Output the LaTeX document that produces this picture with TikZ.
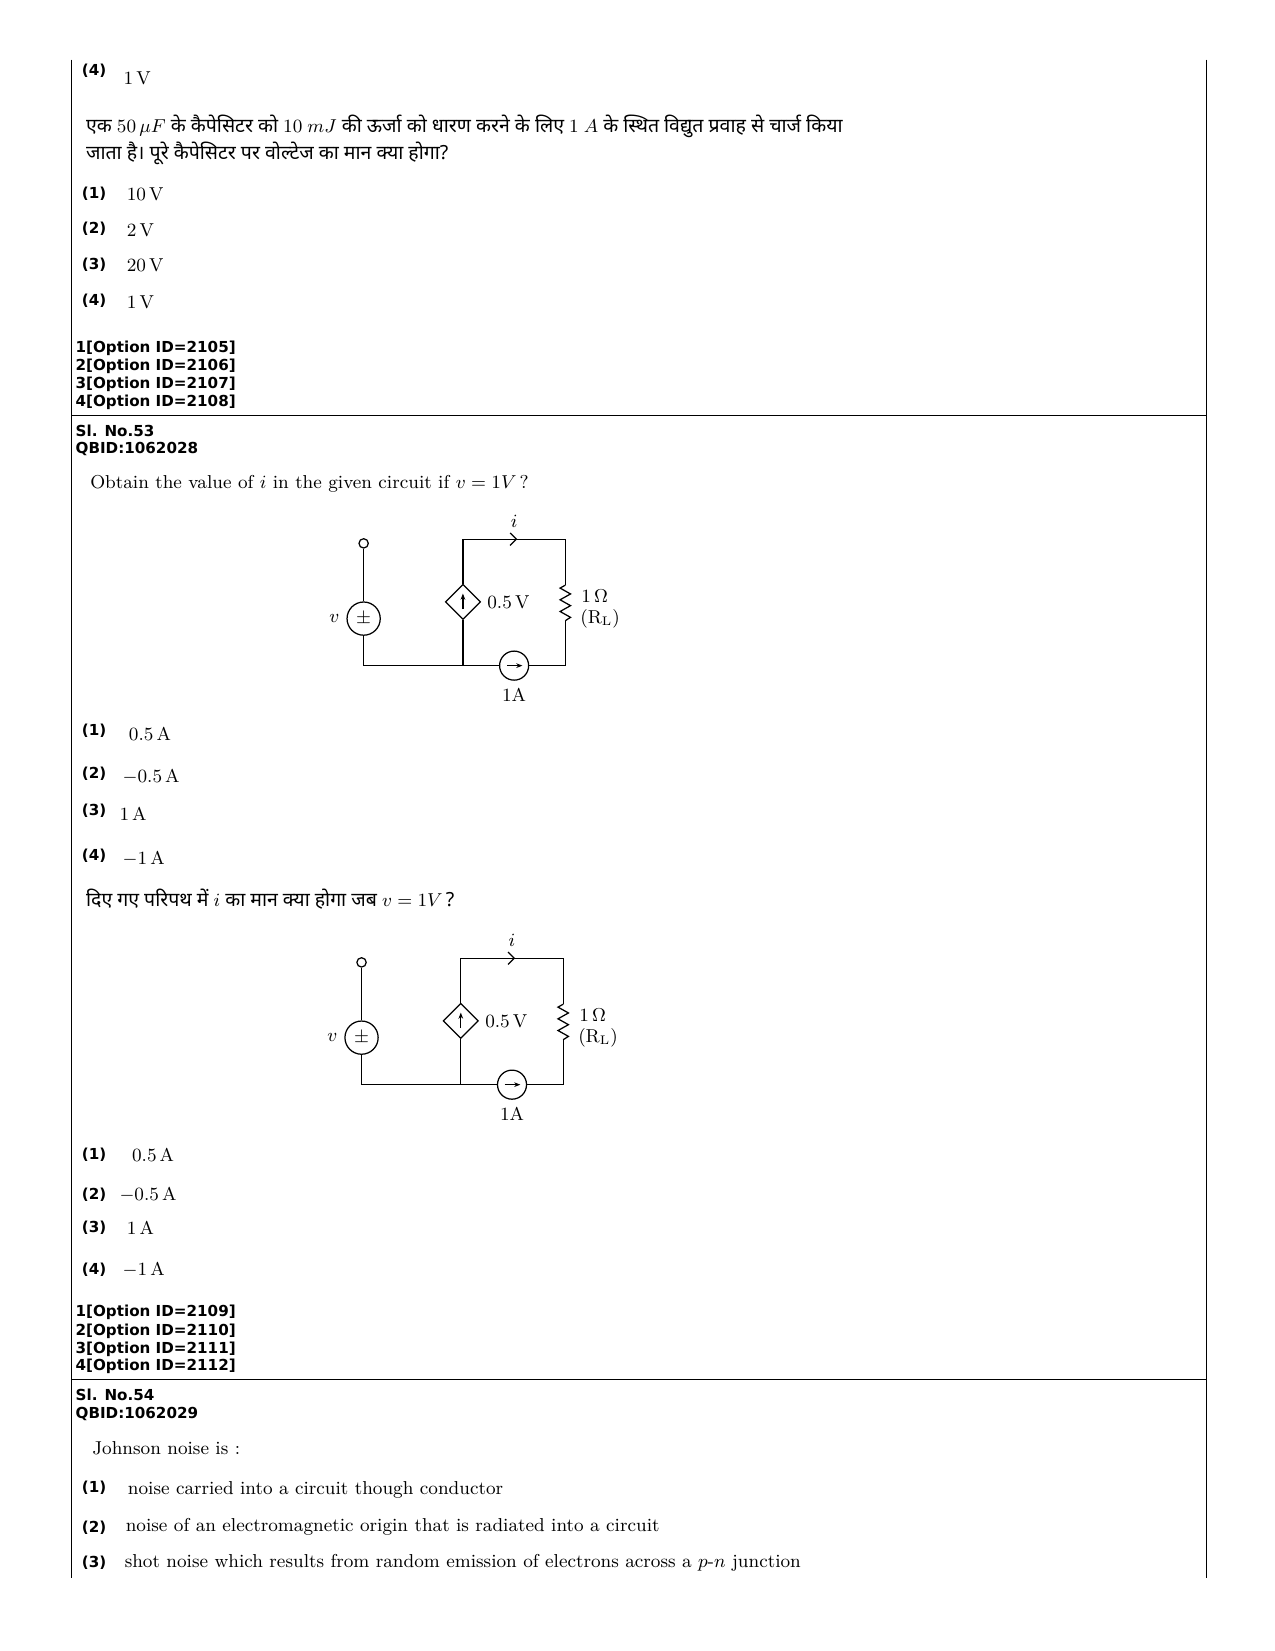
\documentclass[tikz,border=0pt]{standalone}
\usepackage{fontspec}
\usepackage{amsmath}
\newfontfamily\hindi[Script=Devanagari]{Noto Sans}
\newfontfamily\lbl{DejaVu Sans}
\usetikzlibrary{calc}
\usetikzlibrary{arrows.meta,positioning,shapes.geometric}
\begin{document}
\begin{tikzpicture}[x=0.177mm,y=-0.177mm,font=\fontsize{9}{11}\selectfont,
    every node/.style={inner sep=0pt}]
  % styles
  \tikzstyle{num}=[anchor=west,font=\lbl\bfseries\fontsize{7.3}{9}\selectfont]
  \tikzstyle{txt}=[anchor=west]
  \tikzstyle{hin}=[anchor=west,font=\hindi\fontsize{9.4}{11}\selectfont]
  \tikzstyle{wire}=[line width=0.6pt]
  \tikzstyle{rule}=[line width=0.5pt]
  \useasboundingbox (0,0) rectangle (1220,1580);

  % frame
  \draw[rule] (68,57) -- (68,1510);
  \draw[rule] (1155,57) -- (1155,1510);
  \draw[rule] (68,398) -- (1155,398);
  \draw[rule] (68,1320) -- (1155,1320);

  % question 52 (end)
  \node[num] (q0n) at (78,68) {(4)};
  \node[txt] (q0a) at (118,75) {1\,V};
  \node[hin] (hq1) at (82,121) {एक $50\,\mu F$ के कैपेसिटर को $10\ mJ$ की ऊर्जा को धारण करने के लिए $1\ A$ के स्थित विद्युत प्रवाह से चार्ज किया};
  \node[hin] (hq2) at (82,147) {जाता है। पूरे कैपेसिटर पर वोल्टेज का मान क्या होगा?};
  \foreach \k/\yy/\ans in {1/186/10\,V, 2/220/2\,V, 3/254/20\,V, 4/289/1\,V}{
    \node[num] (hn\k) at (78,\yy-1) {(\k)};
    \node[txt] (ha\k) at (121,\yy) {\ans};
  }
  \foreach \k/\yy in {1/333,2/351,3/368,4/385}{
    \pgfmathtruncatemacro\oid{2104+\k}
    \node[num] (ida\k) at (72,\yy) {\k[Option ID=\oid]};
  }

  % question 53
  \node[num] (sl53) at (72,412) {Sl. No.53};
  \node[num] (qb53) at (72,430) {QBID:1062028};
  \node[txt] (q53) at (86,463) {Obtain the value of $i$ in the given circuit if $v=1V$\,?};
  \foreach \k/\yy/\xx/\ans in {1/702/123/0.5\,A, 2/743/117/$-$0.5\,A, 3/779/114/1\,A, 4/822/117/$-$1\,A}{
    \node[num] (en\k) at (78,\yy-3) {(\k)};
    \node[txt] (ea\k) at (\xx,\yy) {\ans};
  }
  \node[hin] (h53) at (82,860) {दिए गए परिपथ में $i$ का मान क्या होगा जब $v=1V$\,?};
  \foreach \k/\yy/\xx/\ans in {1/1105/126/0.5\,A, 2/1143/114/$-$0.5\,A, 3/1175/121/1\,A, 4/1215/117/$-$1\,A}{
    \node[num] (fn\k) at (78,\yy) {(\k)};
    \node[txt] (fa\k) at (\xx,\yy) {\ans};
  }
  \foreach \k/\yy in {1/1256,2/1274,3/1291,4/1308}{
    \pgfmathtruncatemacro\oid{2108+\k}
    \node[num] (idb\k) at (72,\yy) {\k[Option ID=\oid]};
  }

  % circuits
  \foreach \c/\dx/\dy in {a/0/0, b/-2/401}{
    \begin{scope}[shift={(\dx,\dy+3)}]
      \node[circle,draw,wire,minimum size=4.5pt] (term\c) at (348,517) {};
      \node[circle,draw,wire,minimum size=16pt] (vs\c) at (348,589) {};
      \node[font=\fontsize{9}{9}\selectfont] (pm\c) at (vs\c) {$\pm$};
      \node[diamond,draw,wire,minimum size=17pt] (dep\c) at (443,573) {};
      \draw[wire,-{Stealth[length=3pt]}] ($(dep\c)+(0,7)$) -- ($(dep\c)+(0,-8)$);
      \node[circle,draw,wire,minimum size=14pt] (cs\c) at (492,634) {};
      \draw[wire,-{Stealth[length=3pt]}] ($(cs\c)+(-7,0)$) -- ($(cs\c)+(8,0)$);
      \coordinate (bl\c) at (348,634);
      \coordinate (bm\c) at (443,634);
      \coordinate (br\c) at (541,634);
      \coordinate (tl\c) at (443,513);
      \coordinate (tr\c) at (541,513);
      \coordinate (ra\c) at (541,557);
      \coordinate (rb\c) at (541,591);
      \draw[wire] (term\c) -- (vs\c) -- (bl\c) -- (cs\c) -- (br\c) -- (rb\c);
      \draw[wire] (ra\c) -- (tr\c) -- (tl\c) -- (dep\c) -- (bm\c);
      \draw[wire] (ra\c) -- ++(-5,2.8) -- ++(10,5.6) -- ++(-10,5.6) -- ++(10,5.6)
                  -- ++(-10,5.6) -- ++(10,5.6) -- (rb\c);
      \draw[wire,-{Straight Barb[length=3pt]}] (tl\c) -- (495,513);
      \node (il\c) at (492,496) {$i$};
      \node[anchor=west] (dl\c) at (466,573) {0.5\,V};
      \node[anchor=west] (rl\c) at (556,567) {1\,$\Omega$};
      \node[anchor=west] (rn\c) at (555,589) {(R\textsubscript{L})};
      \node (cl\c) at (492,662) {1A};
      \node (vl\c) at (320,589) {$v$};
    \end{scope}
  }

  % question 54
  \node[num] (sl54) at (72,1335) {Sl. No.54};
  \node[num] (qb54) at (72,1353) {QBID:1062029};
  \node[txt] (q54) at (88,1386) {Johnson noise is :};
  \node[num] (gn1) at (78,1424) {(1)};
  \node[txt] (ga1) at (122,1426) {noise carried into a circuit though conductor};
  \node[num] (gn2) at (78,1462) {(2)};
  \node[txt] (ga2) at (120,1461) {noise of an electromagnetic origin that is radiated into a circuit};
  \node[num] (gn3) at (78,1496) {(3)};
  \node[txt] (ga3) at (119,1496) {shot noise which results from random emission of electrons across a $p$-$n$ junction};
\end{tikzpicture}
\end{document}
